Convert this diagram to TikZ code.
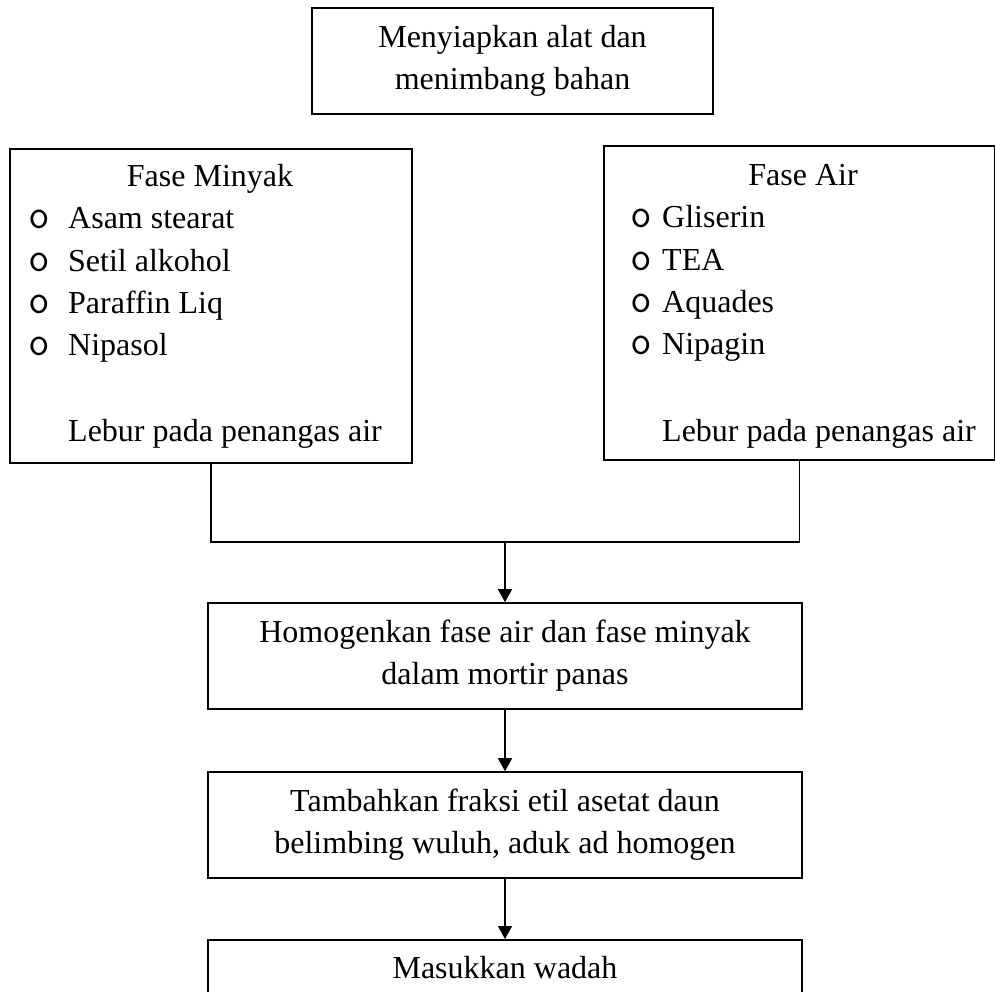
\documentclass[tikz,border=0pt]{standalone}
\usepackage{fontspec}
\setmainfont{Liberation Serif}
\usetikzlibrary{arrows.meta}
\tikzset{
	stepbox/.style={draw, line width=1.6pt, align=center, minimum width=594pt, minimum height=106pt, inner sep=0pt},
	listbox/.style={draw, line width=1.6pt, anchor=north west, minimum height=314pt, inner sep=0pt},
	entry/.style={anchor=base west, inner sep=0pt},
	bullet/.style={anchor=base, inner sep=0pt, font=\ttfamily\fontsize{42}{42}\selectfont},
	link/.style={line width=1.6pt},
	flow/.style={line width=1.6pt, -{Triangle[width=14pt,length=13pt]}}
}

\begin{document}
\begin{tikzpicture}[x=1pt, y=-1pt, font=\fontsize{32}{42}\selectfont]
\useasboundingbox (0,0) rectangle (995,992);
%preparation
\node[stepbox, minimum width=401pt] (siap) at (512.5,61) {Menyiapkan alat dan\\menimbang bahan};

%oil and water phases
\node[listbox, minimum width=402pt] (minyak) at (9,148) {};
\node[listbox, minimum width=391pt] (air) at (603,145) {};
\node[anchor=base] (judulminyak) at (210,187) {Fase Minyak};
\node[anchor=base] (judulair) at (803,186) {Fase Air};
\foreach \bahan [count=\i] in {Asam stearat, Setil alkohol, Paraffin Liq, Nipasol}{
	\node[bullet] (bm\i) at (39,187+42*\i) {o};
	\node[entry] (m\i) at (68,187+42*\i) {\bahan};
}
\foreach \bahan [count=\i] in {Gliserin, TEA, Aquades, Nipagin}{
	\node[bullet] (ba\i) at (641,186+42*\i) {o};
	\node[entry] (a\i) at (662,186+42*\i) {\bahan};
}
\node[entry] (leburminyak) at (68,441) {Lebur pada penangas air};
\node[entry] (leburair) at (662,441) {Lebur pada penangas air};

%steps
\node[stepbox] (homogen) at (505,656) {Homogenkan fase air dan fase minyak\\dalam mortir panas};
\node[stepbox] (tambah) at (505,825) {Tambahkan fraksi etil asetat daun\\belimbing wuluh, aduk ad homogen};
\node[stepbox, minimum height=0pt, anchor=north, text height=22pt, text depth=7pt, inner ysep=17pt] (wadah) at (505,939) {Masukkan wadah};

%connectors
\path (homogen.north) ++(0,-60) coordinate (join);
\draw[link] (minyak.south) |- (join) -| (air.south);
\draw[flow] (join) -- (homogen);
\draw[flow] (homogen) -- (tambah);
\draw[flow] (tambah) -- (wadah);
\end{tikzpicture}
\end{document}
